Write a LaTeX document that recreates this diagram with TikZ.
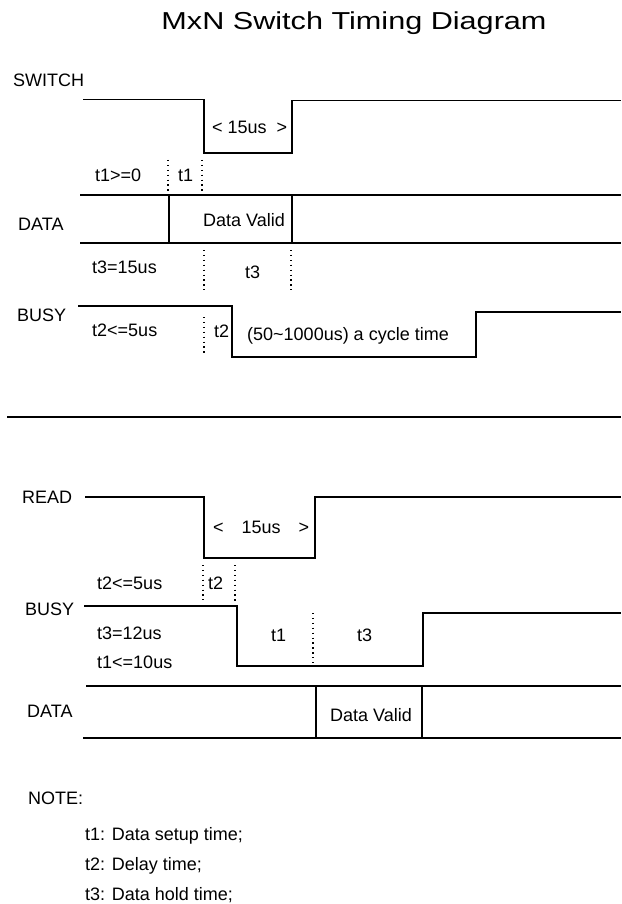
\documentclass[tikz,border=0pt]{standalone}
\usepackage{fontspec}
\setmainfont{Liberation Sans}
\usepackage{tikz}

\begin{document}
\begin{tikzpicture}[x=1pt,y=-1pt,
	wave/.style={line width=1.4pt, line join=miter},
	tick/.style={line width=1.3pt, dash pattern=on 1.3pt off 3.6pt},
	lbl/.style={anchor=base west, inner sep=0pt, font=\fontsize{18}{20}\selectfont}]

	\useasboundingbox (0,0) rectangle (621,904);

	\node (title) at (354,30) [anchor=base, inner sep=0pt, font=\fontsize{24.5}{28}\selectfont] {\scalebox{1.25}[1]{MxN Switch Timing Diagram}};

	\node (switch) at (13,86.7) [lbl] {SWITCH};
	\draw[wave] (83,99.5) -- (204,99.5) -- (204,153) -- (292,153) -- (292,100.5) -- (621,100.5);
	\node (sw15) at (212,134) [lbl] {< 15us\ \ >};

	\node (tonege) at (95,181.7) [lbl] {t1>=0};
	\node (tone) at (178,181.7) [lbl] {t1};
	\draw[tick] (168,160) -- (168,193);
	\draw[tick] (202,160) -- (202,195);

	\node (data) at (18,230) [lbl] {DATA};
	\draw[wave] (80,195) -- (621,195);
	\draw[wave] (80,243) -- (621,243);
	\draw[wave] (169,195) -- (169,243);
	\draw[wave] (292,195) -- (292,243);
	\node (valid) at (203,226) [lbl] {Data Valid};

	\node (tthree) at (92,273.3) [lbl] {t3=15us};
	\node (tthr) at (245,278) [lbl] {t3};
	\draw[tick] (204,250) -- (204,290);
	\draw[tick] (291,250) -- (291,290);

	\node (busy) at (17,321.7) [lbl] {BUSY};
	\draw[wave] (78,306) -- (232,306) -- (232,357) -- (476,357) -- (476,312) -- (621,312);
	\node (ttwo) at (92,336.7) [lbl] {t2<=5us};
	\node (ttw) at (214,337) [lbl] {t2};
	\draw[tick] (204,317) -- (204,353);
	\node (cycle) at (247,340) [lbl] {(50\char`~1000us) a cycle time};

	\draw[wave] (7,417) -- (621,417);

	\node (read) at (22,503) [lbl] {READ};
	\draw[wave] (85,497) -- (204,497) -- (204,558) -- (315,558) -- (315,497) -- (621,497);
	\node (rd15) at (213,533) [lbl] {<\quad15us\quad>};

	\node (ttwob) at (97,589) [lbl] {t2<=5us};
	\node (ttwb) at (208,589) [lbl] {t2};
	\draw[tick] (203,565) -- (203,600);
	\draw[tick] (235,565) -- (235,603);

	\node (busyb) at (25,615) [lbl] {BUSY};
	\draw[wave] (84,606) -- (237,606) -- (237,666) -- (423,666) -- (423,613) -- (621,613);
	\node (tthreeb) at (97,639) [lbl] {t3=12us};
	\node (toneb) at (97,668) [lbl] {t1<=10us};
	\node (tonb) at (271,641.7) [lbl] {t1};
	\node (tthrb) at (357,641.7) [lbl] {t3};
	\draw[tick] (313,613) -- (313,666);

	\node (datab) at (27,717) [lbl] {DATA};
	\draw[wave] (86,686) -- (621,686);
	\draw[wave] (83,738) -- (621,738);
	\draw[wave] (316,686) -- (316,738);
	\draw[wave] (422,686) -- (422,738);
	\node (validb) at (330,721) [lbl] {Data Valid};

	\node (note) at (28,804) [lbl] {NOTE:};
	\node (nsetup) at (85,840) [lbl] {t1: Data setup time;};
	\node (ndelay) at (85,870) [lbl] {t2: Delay time;};
	\node (nhold) at (85,900) [lbl] {t3: Data hold time;};

\end{tikzpicture}
\end{document}
